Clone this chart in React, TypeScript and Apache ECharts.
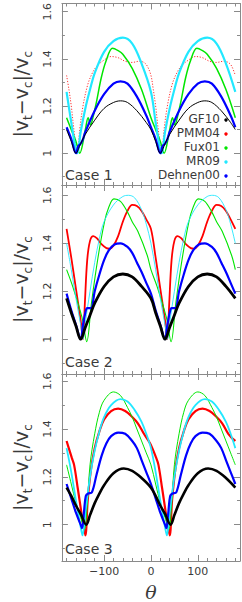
import React, { useEffect, useRef } from 'react';
import * as echarts from 'echarts';

type P = [number, number][];

const seriesNames = ['GF10', 'PMM04', 'Fux01', 'MR09', 'Dehnen00'];
const caseLabels = ['Case 1', 'Case 2', 'Case 3'];
const xMajorTicks = [-100, 0, 100];
const xMinorTicks = [-180, -160, -140, -120, -80, -60, -40, -20, 20, 40, 60, 80, 120, 140, 160, 180];
const yMajorTicks = [1.0, 1.2, 1.4, 1.6];
const yMinorTicks = [0.9, 1.1, 1.3, 1.5];

// ---- Case 1 ----
const c1GF10: P = [[-180,1.10],[-170,1.05],[-160,1.0],[-150,1.04],[-140,1.08],[-120,1.14],[-100,1.19],[-80,1.215],[-65,1.222],[-50,1.215],[-30,1.18],[-10,1.13],[0,1.10],[10,1.05],[20,1.0],[30,1.04],[40,1.08],[60,1.14],[80,1.19],[100,1.215],[115,1.222],[130,1.215],[150,1.18],[170,1.13],[180,1.10]];
const c1PMM04: P = [[-180,1.33],[-175,1.27],[-170,1.2],[-165,1.11],[-160,1.03],[-157,1.0],[-152,1.1],[-145,1.2],[-135,1.29],[-125,1.34],[-115,1.37],[-100,1.395],[-85,1.41],[-70,1.405],[-55,1.39],[-40,1.385],[-25,1.39],[-15,1.385],[-8,1.37],[0,1.33],[5,1.27],[10,1.2],[15,1.11],[20,1.03],[23,1.0],[28,1.1],[35,1.2],[45,1.29],[55,1.34],[65,1.37],[80,1.395],[95,1.41],[110,1.405],[125,1.39],[140,1.385],[155,1.39],[165,1.385],[172,1.37],[180,1.33]];
const c1Fux01: P = [[-180,1.15],[-170,1.10],[-160,1.05],[-152,1.0],[-140,1.10],[-134,1.15],[-129,1.12],[-124,1.15],[-116,1.22],[-106,1.32],[-96,1.39],[-82,1.445],[-70,1.435],[-60,1.42],[-40,1.36],[-20,1.27],[0,1.15],[10,1.10],[20,1.05],[28,1.0],[40,1.10],[46,1.15],[51,1.12],[56,1.15],[64,1.22],[74,1.32],[84,1.39],[98,1.445],[110,1.435],[120,1.42],[140,1.36],[160,1.27],[180,1.15]];
const c1MR09: P = [[-180,1.26],[-170,1.13],[-160,1.01],[-157,1.0],[-150,1.09],[-140,1.19],[-130,1.27],[-120,1.34],[-100,1.43],[-80,1.475],[-60,1.49],[-40,1.465],[-20,1.38],[0,1.26],[10,1.13],[20,1.01],[23,1.0],[30,1.09],[40,1.19],[50,1.27],[60,1.34],[80,1.43],[100,1.475],[120,1.49],[140,1.465],[160,1.38],[180,1.26]];
const c1Dehnen00: P = [[-180,1.11],[-170,1.06],[-160,1.0],[-155,1.03],[-150,1.04],[-145,1.06],[-140,1.09],[-120,1.18],[-100,1.25],[-80,1.295],[-65,1.305],[-50,1.295],[-30,1.24],[-10,1.16],[0,1.11],[10,1.06],[20,1.0],[25,1.03],[30,1.04],[35,1.06],[40,1.09],[60,1.18],[80,1.25],[100,1.295],[115,1.305],[130,1.295],[150,1.24],[170,1.16],[180,1.11]];

// ---- Case 2 ----
const c2GF10: P = [[-180,1.17],[-170,1.11],[-160,1.055],[-150,1.0],[-140,1.05],[-130,1.1],[-120,1.15],[-100,1.22],[-80,1.26],[-60,1.272],[-40,1.26],[-20,1.22],[0,1.17],[10,1.11],[20,1.055],[30,1.0],[40,1.05],[50,1.1],[60,1.15],[80,1.22],[100,1.26],[120,1.272],[140,1.26],[160,1.22],[180,1.17]];
const c2PMM04: P = [[-180,1.46],[-170,1.34],[-160,1.21],[-150,1.08],[-145,1.0],[-141,1.15],[-136,1.33],[-130,1.41],[-123,1.43],[-115,1.42],[-105,1.395],[-95,1.38],[-88,1.378],[-80,1.39],[-70,1.43],[-60,1.49],[-50,1.535],[-40,1.56],[-30,1.555],[-20,1.535],[-10,1.50],[0,1.46],[10,1.34],[20,1.21],[30,1.08],[35,1.0],[39,1.15],[44,1.33],[50,1.41],[57,1.43],[65,1.42],[75,1.395],[85,1.38],[92,1.378],[100,1.39],[110,1.43],[120,1.49],[130,1.535],[140,1.56],[150,1.555],[160,1.535],[170,1.50],[180,1.46]];
const c2Fux01: P = [[-180,1.29],[-167,1.22],[-147,1.09],[-137,0.99],[-127,1.15],[-113,1.34],[-99,1.49],[-90,1.55],[-79,1.585],[-65,1.575],[-50,1.53],[-40,1.49],[-28,1.45],[-8,1.35],[0,1.29],[13,1.22],[33,1.09],[43,0.99],[53,1.15],[67,1.34],[81,1.49],[90,1.55],[101,1.585],[115,1.575],[130,1.53],[140,1.49],[152,1.45],[172,1.35],[180,1.29]];
const c2MR09: P = [[-180,1.40],[-170,1.29],[-160,1.17],[-150,1.06],[-145,1.0],[-140,1.07],[-130,1.2],[-120,1.32],[-110,1.42],[-100,1.49],[-80,1.56],[-60,1.595],[-48,1.60],[-35,1.59],[-20,1.54],[-10,1.48],[0,1.40],[10,1.29],[20,1.17],[30,1.06],[35,1.0],[40,1.07],[50,1.2],[60,1.32],[70,1.42],[80,1.49],[100,1.56],[120,1.595],[132,1.60],[145,1.59],[160,1.54],[170,1.48],[180,1.40]];
const c2Dehnen00: P = [[-180,1.19],[-170,1.12],[-160,1.06],[-150,1.0],[-145,1.06],[-140,1.11],[-136,1.13],[-128,1.13],[-120,1.2],[-110,1.27],[-100,1.33],[-90,1.37],[-78,1.395],[-65,1.40],[-50,1.385],[-40,1.36],[-30,1.32],[-20,1.28],[-10,1.235],[0,1.19],[10,1.12],[20,1.06],[30,1.0],[35,1.06],[40,1.11],[44,1.13],[52,1.13],[60,1.2],[70,1.27],[80,1.33],[90,1.37],[102,1.395],[115,1.40],[130,1.385],[140,1.36],[150,1.32],[160,1.28],[170,1.235],[180,1.19]];

// ---- Case 3 ----
const c3GF10: P = [[-180,1.155],[-170,1.12],[-160,1.08],[-150,1.045],[-138,1.0],[-130,1.04],[-120,1.09],[-110,1.13],[-100,1.165],[-80,1.215],[-58,1.235],[-40,1.225],[-20,1.195],[0,1.155],[10,1.12],[20,1.08],[30,1.045],[42,1.0],[50,1.04],[60,1.09],[70,1.13],[80,1.165],[100,1.215],[122,1.235],[140,1.225],[160,1.195],[180,1.155]];
const c3PMM04: P = [[-180,1.35],[-169,1.28],[-164,1.25],[-156,1.15],[-146,1.02],[-140,0.955],[-135,1.1],[-128,1.23],[-120,1.32],[-110,1.39],[-100,1.44],[-85,1.475],[-70,1.485],[-55,1.475],[-40,1.45],[-28,1.424],[-15,1.38],[-2,1.34],[11,1.28],[16,1.25],[24,1.15],[34,1.02],[40,0.955],[45,1.1],[52,1.23],[60,1.32],[70,1.39],[80,1.44],[95,1.475],[110,1.485],[125,1.475],[140,1.45],[152,1.424],[165,1.38],[180,1.35]];
const c3Fux01: P = [[-180,1.25],[-170,1.17],[-160,1.09],[-150,1.03],[-142,0.98],[-136,1.08],[-130,1.25],[-120,1.38],[-110,1.47],[-100,1.52],[-80,1.555],[-65,1.54],[-50,1.49],[-40,1.45],[-30,1.40],[-20,1.35],[-10,1.30],[0,1.25],[10,1.17],[20,1.09],[30,1.03],[38,0.98],[44,1.08],[50,1.25],[60,1.38],[70,1.47],[80,1.52],[100,1.555],[115,1.54],[130,1.49],[140,1.45],[150,1.40],[160,1.35],[170,1.30],[180,1.25]];
const c3MR09: P = [[-180,1.32],[-170,1.22],[-160,1.1],[-150,0.99],[-146,0.955],[-140,1.05],[-130,1.2],[-120,1.31],[-110,1.39],[-100,1.45],[-85,1.50],[-65,1.525],[-50,1.515],[-35,1.48],[-20,1.43],[-10,1.38],[0,1.32],[10,1.22],[20,1.1],[30,0.99],[34,0.955],[40,1.05],[50,1.2],[60,1.31],[70,1.39],[80,1.45],[95,1.50],[115,1.525],[130,1.515],[145,1.48],[160,1.43],[170,1.38],[180,1.32]];
const c3Dehnen00: P = [[-180,1.17],[-170,1.11],[-160,1.05],[-150,1.0],[-147,0.985],[-143,1.05],[-139,1.12],[-134,1.13],[-126,1.135],[-116,1.21],[-105,1.29],[-95,1.34],[-85,1.37],[-70,1.385],[-55,1.38],[-40,1.35],[-30,1.32],[-20,1.27],[-10,1.22],[0,1.17],[10,1.11],[20,1.05],[30,1.0],[33,0.985],[37,1.05],[41,1.12],[46,1.13],[54,1.135],[64,1.21],[75,1.29],[85,1.34],[95,1.37],[110,1.385],[125,1.38],[140,1.35],[150,1.32],[160,1.27],[170,1.22],[180,1.17]];

const panels: P[][] = [
  [c1GF10, c1PMM04, c1Fux01, c1MR09, c1Dehnen00],
  [c2GF10, c2PMM04, c2Fux01, c2MR09, c2Dehnen00],
  [c3GF10, c3PMM04, c3Fux01, c3MR09, c3Dehnen00],
];

const colors = ['#000000', '#ff0000', '#00e600', '#22e8ff', '#0000ff'];
// line widths per panel per series (GF10, PMM04, Fux01, MR09, Dehnen00)
const widths = [
  [1.0, 1.0, 1.5, 2.2, 2.2],
  [2.8, 1.8, 1.1, 0.9, 2.2],
  [2.6, 2.2, 1.0, 1.8, 2.2],
];
const drawOrder = [1, 2, 3, 4, 0];

const grids = [
  { left: 54, top: 2, width: 186, height: 183 },
  { left: 54, top: 185, width: 186, height: 189 },
  { left: 54, top: 374, width: 186, height: 189 },
];
const yRanges = [
  [0.865, 1.635],
  [0.855, 1.643],
  [0.848, 1.63],
];
const xRange = [-190, 190];

const FONT = 'DejaVu Sans';
const AX = '#8a8a8a';
const TXT = '#3a3a3a';

const legendCenters = [119.5, 133.5, 147.5, 161.5, 175.5];
const caseTops = [168, 355, 542];

export default function App() {
  const ref = useRef<HTMLDivElement>(null);
  useEffect(() => {
    if (!ref.current) return;
    const chart = echarts.init(ref.current, undefined, { renderer: 'svg' });
    const xAxis: any[] = [];
    const yAxis: any[] = [];
    const series: any[] = [];
    grids.forEach((_, g) => {
      const mkX = (pos: string, ticks: number[], len: number, main: boolean) => ({
        type: 'value', gridIndex: g, min: xRange[0], max: xRange[1], position: pos,
        axisLine: { show: main, onZero: false, lineStyle: { color: AX, width: 1 } },
        axisTick: { show: true, inside: true, length: len, customValues: ticks, lineStyle: { color: AX } },
        axisLabel: {
          show: main && pos === 'bottom' && g === 2,
          customValues: xMajorTicks, margin: 5, fontSize: 11, fontFamily: FONT, color: TXT,
          formatter: (v: number) => (v < 0 ? '\u2212' + Math.abs(v) : String(v)),
        },
        splitLine: { show: false },
        name: main && pos === 'bottom' && g === 2 ? '\u03b8' : '',
        nameLocation: 'middle', nameGap: 21,
        nameTextStyle: { fontSize: 19, fontStyle: 'italic', fontFamily: 'DejaVu Serif', color: TXT },
      });
      const xi = xAxis.length;
      xAxis.push(mkX('bottom', xMajorTicks, 6, true));
      xAxis.push(mkX('bottom', xMinorTicks, 3, false));
      xAxis.push(mkX('top', xMajorTicks, 6, true));
      xAxis.push(mkX('top', xMinorTicks, 3, false));
      const mkY = (pos: string, ticks: number[], len: number, main: boolean) => ({
        type: 'value', gridIndex: g, min: yRanges[g][0], max: yRanges[g][1], position: pos,
        axisLine: { show: main, onZero: false, lineStyle: { color: AX, width: 1 } },
        axisTick: { show: true, inside: true, length: len, customValues: ticks, lineStyle: { color: AX } },
        axisLabel: {
          show: main && pos === 'left', customValues: yMajorTicks, rotate: 90, margin: 9,
          fontSize: 11, fontFamily: FONT, color: TXT,
          formatter: (v: number) => (Math.abs(v - 1) < 1e-9 ? '1' : v.toFixed(1)),
        },
        splitLine: { show: false },
        name: main && pos === 'left' ? '|v{s|t}\u2212v{s|c}|/v{s|c}' : '',
        nameLocation: 'middle', nameRotate: 90, nameGap: 24,
        nameTextStyle: {
          fontSize: 19, fontFamily: FONT, color: TXT, lineHeight: 26,
          rich: { s: { fontSize: 12, lineHeight: 12, verticalAlign: 'bottom', fontFamily: FONT, color: TXT } },
        },
      });
      const yi = yAxis.length;
      yAxis.push(mkY('left', yMajorTicks, 6, true));
      yAxis.push(mkY('left', yMinorTicks, 3, false));
      yAxis.push(mkY('right', yMajorTicks, 6, true));
      yAxis.push(mkY('right', yMinorTicks, 3, false));
      drawOrder.forEach((s) => {
        series.push({
          type: 'line', name: seriesNames[s], xAxisIndex: xi, yAxisIndex: yi,
          data: panels[g][s], showSymbol: false, symbol: 'none', smooth: 0.35,
          lineStyle: {
            color: colors[s], width: widths[g][s],
            type: g === 0 && s === 1 ? [1.2, 1.6] : 'solid',
            opacity: g === 0 && s === 1 ? 0.8 : 1,
          },
          z: 2, silent: true,
        });
      });
    });

    const graphic: any[] = [];
    caseLabels.forEach((t, i) => {
      graphic.push({ type: 'text', left: 65, top: caseTops[i], style: { text: t, font: `14px "${FONT}"`, fill: TXT } });
    });
    seriesNames.forEach((n, i) => {
      graphic.push({ type: 'text', right: 22, top: legendCenters[i] - 6.5, style: { text: n, font: `12px "${FONT}"`, fill: TXT } });
      graphic.push({ type: 'circle', x: 226, y: legendCenters[i] + 0.5, shape: { cx: 0, cy: 0, r: 1.7 }, style: { fill: colors[i] } });
    });

    chart.setOption({
      animation: false,
      backgroundColor: '#ffffff',
      grid: grids.map((g) => ({ ...g, containLabel: false })),
      xAxis, yAxis, series, graphic,
    });
    return () => chart.dispose();
  }, []);
  return <div ref={ref} style={{ position: 'absolute', left: 0, top: 0, width: 242, height: 602 }} />;
}
